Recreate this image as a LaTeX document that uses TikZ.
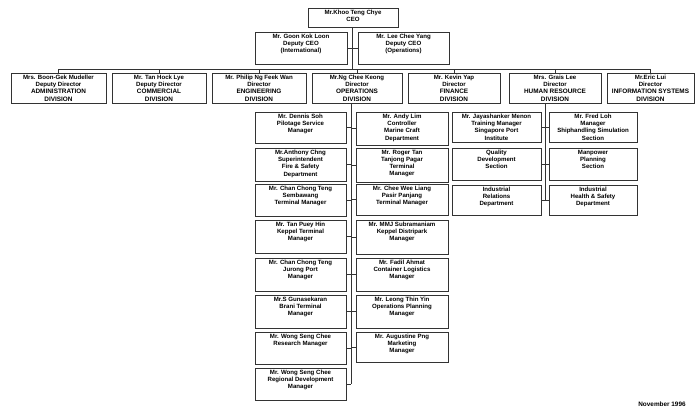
\documentclass[tikz,border=0pt]{standalone}
\usepackage{fontspec}
\setmainfont{Liberation Sans}
\tikzset{
  obox/.style={draw=black!80, line width=0.6pt, inner sep=0pt, rectangle},
  conn/.style={draw=black!80, line width=0.6pt},
}
\newcommand\txt{\fontsize{6.1}{7.1}\selectfont\bfseries}
\newcommand\dv[1]{{\fontsize{6.4}{7.1}\selectfont #1}}
\newcommand\OB[6]{\node[obox, minimum width={#4-#2}, minimum height={#5-#3}] (#1) at ({(#2+#4)/2},{(#3+#5)/2}) {\parbox[c][\dimexpr #5pt-#3pt\relax][t]{\dimexpr #4pt-#2pt-2pt\relax}{\centering\txt\vspace*{2.3pt}#6\par}};}
\begin{document}
\begin{tikzpicture}[x=1pt,y=-1pt]
\fill[white] (0,0) rectangle (700,419);
\path[use as bounding box] (0,0) rectangle (700,419);
% top
\OB{ceo}{308}{8}{398}{27}{Mr.Khoo Teng Chye\\CEO}
\OB{dl}{255}{32}{347}{64}{Mr. Goon Kok Loon\\Deputy CEO\\(International)}
\OB{dr}{358}{32}{449}{64}{Mr. Lee Chee Yang\\Deputy CEO\\(Operations)}
% divisions
\OB{d1}{11}{73}{106}{103}{Mrs. Boon-Gek Mudeller\\Deputy Director\\\dv{ADMINISTRATION}\\\dv{DIVISION}}
\OB{d2}{112}{73}{206}{103}{Mr. Tan Hock Lye\\Deputy Director\\\dv{COMMERCIAL}\\\dv{DIVISION}}
\OB{d3}{212}{73}{306}{103}{Mr. Philip Ng Feek Wan\\Director\\\dv{ENGINEERING}\\\dv{DIVISION}}
\OB{d4}{312}{73}{402}{103}{Mr.Ng Chee Keong\\Director\\\dv{OPERATIONS}\\\dv{DIVISION}}
\OB{d5}{408}{73}{500}{103}{Mr. Kevin Yap\\Director\\\dv{FINANCE}\\\dv{DIVISION}}
\OB{d6}{509}{73}{601}{103}{Mrs. Grais Lee\\Director\\\dv{HUMAN RESOURCE}\\\dv{DIVISION}}
\OB{d7}{607}{73}{694}{103}{Mr.Eric Lui\\Director\\\dv{INFORMATION SYSTEMS}\\\dv{DIVISION}}
% operations, left column
\OB{o1}{255}{112}{346}{143}{Mr. Dennis Soh\\Pilotage Service\\Manager}
\OB{o2}{255}{148}{346}{181}{Mr.Anthony Chng\\Superintendent\\Fire \& Safety\\Department}
\OB{o3}{255}{184}{346}{216}{Mr. Chan Chong Teng\\Sembawang\\Terminal Manager}
\OB{o4}{255}{220}{346}{253}{Mr. Tan Puey Hin\\Keppel Terminal\\Manager}
\OB{o5}{255}{258}{346}{291}{Mr. Chan Chong Teng\\Jurong Port\\Manager}
\OB{o6}{255}{295}{346}{328}{Mr.S Gunasekaran\\Brani Terminal\\Manager}
\OB{o7}{255}{332}{346}{364}{Mr. Wong Seng Chee\\Research Manager}
\OB{o8}{255}{368}{346}{400}{Mr. Wong Seng Chee\\Regional Development\\Manager}
% operations, right column
\OB{p1}{356}{112}{448}{145}{Mr. Andy Lim\\Controller\\Marine Craft\\Department}
\OB{p2}{356}{148}{448}{182}{Mr. Roger Tan\\Tanjong Pagar\\Terminal\\Manager}
\OB{p3}{356}{184}{448}{215}{Mr. Chee Wee Liang\\Pasir Panjang\\Terminal Manager}
\OB{p4}{356}{220}{448}{254}{Mr. MMJ Subramaniam\\Keppel Distripark\\Manager}
\OB{p5}{356}{258}{448}{291}{Mr. Fadil Ahmat\\Container Logistics\\Manager}
\OB{p6}{356}{295}{448}{328}{Mr. Leong Thin Yin\\Operations Planning\\Manager}
\OB{p7}{356}{332}{448}{362}{Mr. Augustine Png\\Marketing\\Manager}
% human resource
\OB{h1}{452}{112}{541}{142}{Mr. Jayashanker Menon\\Training Manager\\Singapore Port\\Institute}
\OB{h2}{549}{112}{637}{142}{Mr. Fred Loh\\Manager\\Shiphandling Simulation\\Section}
\OB{h3}{452}{148}{541}{180}{Quality\\Development\\Section}
\OB{h4}{549}{148}{637}{180}{Manpower\\Planning\\Section}
\OB{h5}{452}{185}{541}{215}{Industrial\\Relations\\Department}
\OB{h6}{549}{185}{637}{215}{Industrial\\Health \& Safety\\Department}
% date
\node[font=\fontsize{6.4}{7}\selectfont\bfseries, inner sep=0pt] (date) at (662,404) {November 1996};
% connectors
\coordinate (bar) at (0,69);
\coordinate (ov) at (351,0);
\coordinate (hv) at (545,0);
\draw[conn] (ceo.south -| 352,0) -- (bar -| 352,0);
\draw[conn] (dl.east) -- (dr.west);
\draw[conn] (d1.north |- bar) -- (d7.north |- bar);
\foreach \d in {d1,d2,d3,d4,d5,d6,d7} {\draw[conn] (\d.north) -- (\d.north |- bar);}
\draw[conn] (d4.south -| ov) -- (o8.east -| ov);
\foreach \b in {o1,o2,o3,o4,o5,o6,o7,o8} {\draw[conn] (\b.east) -- (\b.east -| ov);}
\foreach \b in {p1,p2,p3,p4,p5,p6,p7} {\draw[conn] (\b.west) -- (\b.west -| ov);}
\draw[conn] (d6.south -| hv) -- (h5.east -| hv);
\foreach \b in {h1,h3,h5} {\draw[conn] (\b.east) -- (\b.east -| hv);}
\foreach \b in {h2,h4,h6} {\draw[conn] (\b.west) -- (\b.west -| hv);}
\end{tikzpicture}
\end{document}
